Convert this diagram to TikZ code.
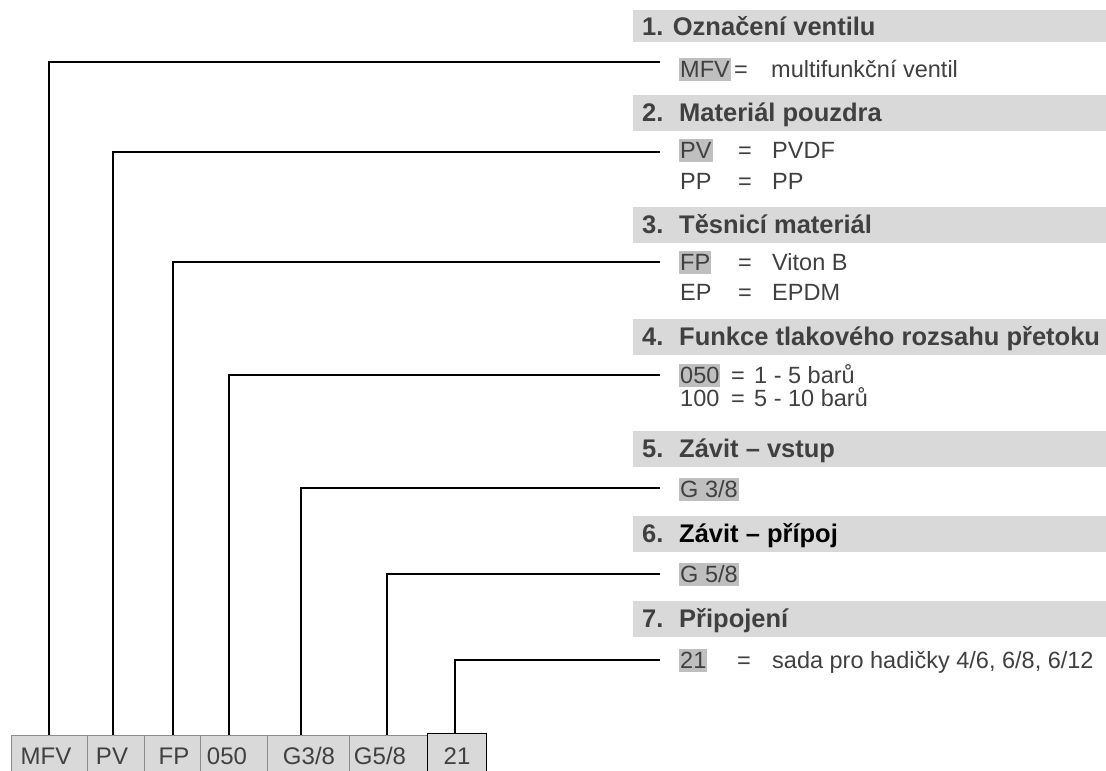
\documentclass[tikz,border=0pt]{standalone}
\usepackage{fontspec}
\setmainfont{Liberation Sans}
\definecolor{bandgray}{HTML}{D9D9D9}
\definecolor{hlgray}{HTML}{BFBFBF}
\definecolor{txt}{HTML}{404040}
\definecolor{boxline}{HTML}{8C8C8C}
\begin{document}
\begin{tikzpicture}[x=1pt,y=-1pt,
  band/.style={fill=bandgray, draw=none, anchor=west, minimum width=473pt, minimum height=36pt, inner sep=0pt, outer sep=0pt},
  head/.style={anchor=base west, inner sep=0pt, text=txt, font=\fontsize{25.5}{30}\selectfont\bfseries},
  item/.style={anchor=west, inner xsep=0pt, inner ysep=0pt, text height=19.5pt, text depth=3.5pt, text=txt, font=\fontsize{23.5}{27}\selectfont},
  code/.style={item, fill=hlgray, inner xsep=1pt},
  conn/.style={draw=black, line width=1.3pt},
  bx/.style={fill=bandgray, draw=boxline, line width=1pt, minimum height=60pt, anchor=north west, inner sep=0pt, outer sep=0pt},
  bxt/.style={anchor=base, inner sep=0pt, text=txt, font=\fontsize{24}{28}\selectfont}]
\clip (0,0) rectangle (1106,771);
\fill[white] (0,0) rectangle (1106,771);

% heading bands
\node[band, minimum height=32pt] (h1) at (633,26) {};
\node[band] (h2) at (633,113) {};
\node[band] (h3) at (633,225) {};
\node[band] (h4) at (633,337) {};
\node[band] (h5) at (633,449) {};
\node[band] (h6) at (633,534) {};
\node[band] (h7) at (633,619) {};
\node[head] (ht1) at (642,35) {1. Označení ventilu};
\node[head] (ht2) at (642,121) {\makebox[37pt][l]{2.}Materiál pouzdra};
\node[head] (ht3) at (642,233) {\makebox[37pt][l]{3.}Těsnicí materiál};
\node[head] (ht4) at (642,345) {\makebox[37pt][l]{4.}Funkce tlakového rozsahu přetoku};
\node[head] (ht5) at (642,457) {\makebox[37pt][l]{5.}Závit – vstup};
\node[head] (ht6) at (642,542) {\makebox[37pt][l]{6.}\textcolor{black}{Závit – přípoj}};
\node[head] (ht7) at (642,627) {\makebox[37pt][l]{7.}Připojení};

% rows
\node[code] (c1) at (679,69.5) {MFV};
\node[item] (q1) at (734,69.5) {=};
\node[item] (v1) at (771,69.5) {multifunkční ventil};

\node[code] (c2) at (679,150.5) {PV};
\node[item] (q2) at (738,150.5) {=};
\node[item] (v2) at (772,150.5) {PVDF};
\node[item] (c2b) at (680,181) {PP};
\node[item] (q2b) at (738,181) {=};
\node[item] (v2b) at (772,181) {PP};

\node[code] (c3) at (679,262) {FP};
\node[item] (q3) at (738,262) {=};
\node[item] (v3) at (772,262) {Viton B};
\node[item] (c3b) at (680,292) {EP};
\node[item] (q3b) at (738,292) {=};
\node[item] (v3b) at (772,292) {EPDM};

\node[code] (c4) at (679,375) {050};
\node[item] (q4) at (731,375) {=};
\node[item] (v4) at (754,375) {1 - 5 barů};
\node[item] (c4b) at (680,398) {100};
\node[item] (q4b) at (731,398) {=};
\node[item] (v4b) at (754,398) {5 - 10 barů};

\node[code] (c5) at (679,489) {G 3/8};
\node[code] (c6) at (679,574) {G 5/8};

\node[code] (c7) at (679,660) {21};
\node[item] (q7) at (737,660) {=};
\node[item] (v7) at (772,660) {sada pro hadičky 4/6, 6/8, 6/12};

% bottom boxes
\node[bx, minimum width=76pt] (b1) at (11,735) {};
\node[bx, minimum width=57pt] (b2) at (87,735) {};
\node[bx, minimum width=56pt] (b3) at (144,735) {};
\node[bx, minimum width=67pt] (b4) at (200,735) {};
\node[bx, minimum width=82pt] (b5) at (267,735) {};
\node[bx, minimum width=78pt] (b6) at (349,735) {};
\node[bx, draw=black, minimum width=59pt] (b7) at (427,733) {};
\node[bxt] (t1) at (46,764) {MFV};
\node[bxt] (t2) at (112,764) {PV};
\node[bxt] (t3) at (174,764) {FP};
\node[bxt] (t4) at (227,764) {050};
\node[bxt] (t5) at (309,764) {G3/8};
\node[bxt] (t6) at (380,764) {G5/8};
\node[bxt] (t7) at (457,764) {21};

% connectors
\coordinate (e1) at (660,62);
\coordinate (e2) at (660,152);
\coordinate (e3) at (660,262);
\coordinate (e4) at (660,375);
\coordinate (e5) at (660,488);
\coordinate (e6) at (660,574);
\coordinate (e7) at (660,660);
\draw[conn] (e1) -| (b1.north);
\draw[conn] (e2) -| ([xshift=-2.5pt]b2.north);
\draw[conn] (e3) -| ([xshift=1pt]b3.north);
\draw[conn] (e4) -| ([xshift=-4.5pt]b4.north);
\draw[conn] (e5) -| ([xshift=-7pt]b5.north);
\draw[conn] (e6) -| ([xshift=-1pt]b6.north);
\draw[conn] (e7) -| ([xshift=-1.5pt]b7.north);
\end{tikzpicture}
\end{document}
